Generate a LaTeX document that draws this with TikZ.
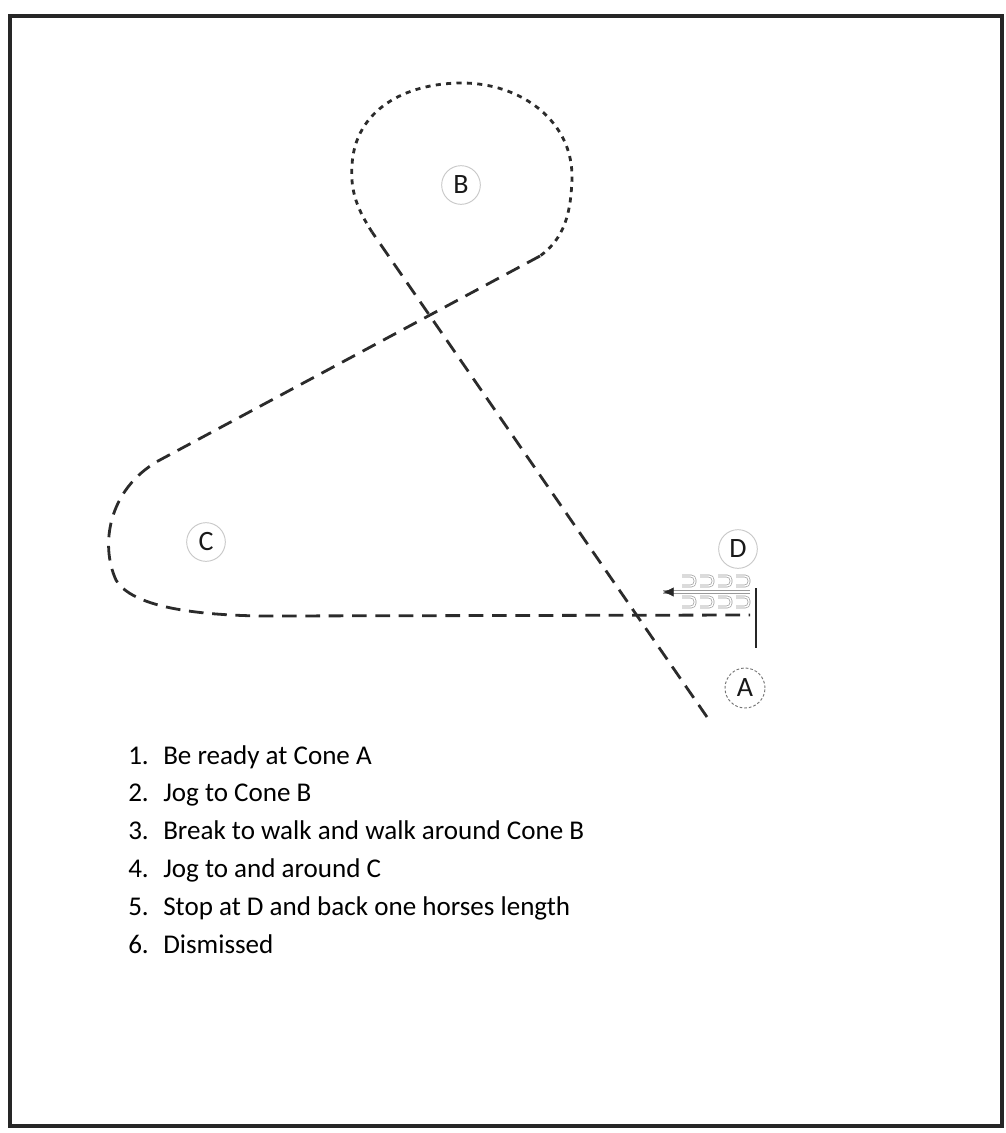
\documentclass[tikz,border=0pt]{standalone}
\usepackage{fontspec}
\setmainfont{Carlito}
\usepackage{tikz}
\usetikzlibrary{arrows.meta}
\definecolor{cTrail}{HTML}{2B2B2B}
\definecolor{cCone}{HTML}{C8C8C8}
\definecolor{cPrint}{HTML}{9A9A9A}
\tikzset{
  frame/.style={draw=black!85, line width=2.6pt},
  cone/.style={circle, draw=cCone, line width=0.7pt, minimum size=29pt, inner sep=0pt,
               font=\fontsize{21}{21}\selectfont, text=black!90},
  startcone/.style={cone, draw=black!55, dash pattern=on 2pt off 1.5pt, minimum size=30pt},
  trail/.style={draw=cTrail, line width=2.1pt, dash pattern=on 11pt off 6.5pt},
  walkloop/.style={draw=cTrail, line width=2.1pt, dash pattern=on 3.8pt off 4pt},
  stopline/.style={draw=black!85, line width=1.4pt},
  hoof/.style={draw=cPrint, line width=0.5pt, double=white, double distance=1.1pt, rounded corners=3pt},
  backup/.style={draw=cPrint, line width=0.5pt, double=white, double distance=1.4pt},
  backtip/.style={draw=black!85, line width=0.4pt, -{Latex[length=8pt,width=7pt]}},
  item/.style={font=\fontsize{20.3}{20.3}\selectfont, text=black, inner sep=0pt, anchor=base west},
}
\begin{document}
\begin{tikzpicture}[x=0.75pt, y=-0.75pt]
  \useasboundingbox (0,0) rectangle (1006,1133);
  \draw[frame] (10,16) rectangle (1002,1126);

  % cones
  \node[cone] (B) at (461,185) {B};
  \node[cone] (C) at (206,542) {C};
  \node[cone] (D) at (738,549) {D};
  \node[startcone] (A) at (745,688) {A};

  % route points
  \coordinate (start) at (707,717);
  \coordinate (bin) at (372,232);
  \coordinate (bout) at (540,256);
  \coordinate (cin) at (158,461);
  \coordinate (dend) at (750,615);

  \draw[trail] (start) -- (bin);
  \draw[walkloop] (bin) .. controls (358,210) and (350,192) .. (352,165)
    .. controls (355,110) and (405,83) .. (462,83)
    .. controls (522,83) and (573,122) .. (572,178)
    .. controls (571,212) and (565,238) .. (bout);
  \draw[trail] (bout) -- (cin)
    .. controls (108,490) and (100,545) .. (116,580)
    .. controls (132,607) and (195,615) .. (262,616) -- (dend);

  % stop at D and back up
  \coordinate (stoptop) at (756,588);
  \coordinate (stopbot) at (756,648);
  \draw[stopline] (stoptop) -- (stopbot);
  \foreach \hx in {682,700,718,736}
    \foreach \hy in {581,602}
      \draw[hoof] (\hx,\hy-5) -- (\hx+13,\hy-5) -- (\hx+13,\hy+5) -- (\hx,\hy+5);
  \coordinate (backstart) at (750,592);
  \coordinate (backend) at (663,592);
  \draw[backup] (backstart) -- (backend);
  \draw[backtip] (backend) ++(8,0) -- (backend);

  % instructions
  \foreach \n/\txt in {1/Be ready at Cone A, 2/Jog to Cone B,
      3/Break to walk and walk around Cone B, 4/Jog to and around C,
      5/Stop at D and back one horses length, 6/Dismissed} {
    \node[item] (num\n) at (128,{764+37.8*(\n-1)}) {\n.};
    \node[item] (step\n) at (163,{764+37.8*(\n-1)}) {\txt};
  }
\end{tikzpicture}
\end{document}
